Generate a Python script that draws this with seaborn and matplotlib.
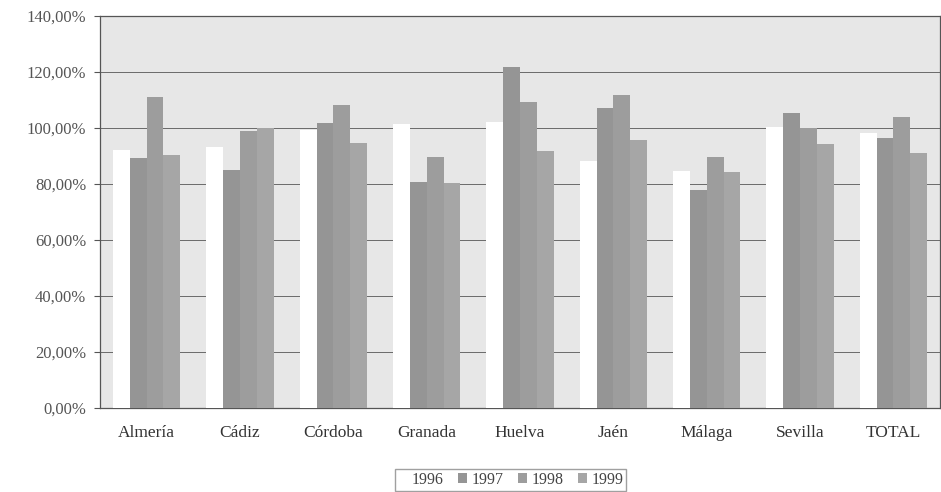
import matplotlib
matplotlib.use('Agg')
import matplotlib.pyplot as plt
from matplotlib.ticker import FuncFormatter, MultipleLocator
import pandas as pd
import seaborn as sns

# Values (percent)
provincias = ['Almería', 'Cádiz', 'Córdoba', 'Granada', 'Huelva',
              'Jaén', 'Málaga', 'Sevilla', 'TOTAL']
years = ['1996', '1997', '1998', '1999']
v1996 = [92.1, 93.2, 99.3, 101.5, 102.2, 88.2, 84.5, 100.4, 98.2]
v1997 = [89.3, 85.0, 101.8, 80.8, 121.9, 107.1, 77.9, 105.4, 96.4]
v1998 = [111.0, 98.9, 108.2, 89.8, 109.2, 111.8, 89.8, 100.0, 104.0]
v1999 = [90.4, 100.0, 94.6, 80.3, 91.9, 95.7, 84.2, 94.3, 91.0]

bar_colors = ['#ffffff', '#959595', '#9d9d9d', '#a6a6a6']


def build_frame():
    rows = []
    for year, vals in zip(years, [v1996, v1997, v1998, v1999]):
        for prov, val in zip(provincias, vals):
            rows.append({'provincia': prov, 'año': year, 'valor': val})
    return pd.DataFrame(rows)


def main():
    df = build_frame()

    sns.set_style('white')
    plt.rcParams['font.family'] = ['Liberation Serif', 'DejaVu Serif']

    fig = plt.figure(figsize=(9.41, 4.92), dpi=100)
    ax = fig.add_axes([0.1063, 0.1707, 0.8927, 0.7967])
    ax.set_facecolor('#e7e7e7')

    sns.barplot(data=df, x='provincia', y='valor', hue='año',
                palette=bar_colors, width=0.72, saturation=1,
                linewidth=0, ax=ax, zorder=3)

    ax.set_ylim(0, 140)
    ax.set_xlim(-0.5, len(provincias) - 0.5)
    ax.yaxis.set_major_locator(MultipleLocator(20))
    ax.yaxis.set_major_formatter(
        FuncFormatter(lambda v, _: f'{v:.2f}'.replace('.', ',') + '%'))
    ax.grid(axis='y', color='#6a6a6a', linewidth=0.7, zorder=0)
    ax.set_axisbelow(True)

    for side in ['left', 'right', 'top', 'bottom']:
        ax.spines[side].set_visible(True)
        ax.spines[side].set_color('#555555')
        ax.spines[side].set_linewidth(0.9)

    ax.tick_params(axis='y', left=True, length=4, color='#555555',
                   labelsize=12, labelcolor='#555555', pad=6)
    ax.tick_params(axis='x', bottom=False, labelsize=12.5,
                   labelcolor='#333333', pad=9)
    ax.set_xlabel('')
    ax.set_ylabel('')

    handles, labels = ax.get_legend_handles_labels()
    ax.legend(handles, labels, loc='lower center',
              bbox_to_anchor=(0.5425, -0.008), bbox_transform=fig.transFigure,
              ncol=4, fontsize=11.5, frameon=True, fancybox=False,
              edgecolor='#888888', handlelength=0.6, handleheight=0.6,
              handletextpad=0.25, columnspacing=0.9, borderpad=0.2,
              borderaxespad=0.3, labelcolor='#444444')

    fig.savefig('out.png', dpi=100)
    plt.close(fig)


if __name__ == '__main__':
    main()
